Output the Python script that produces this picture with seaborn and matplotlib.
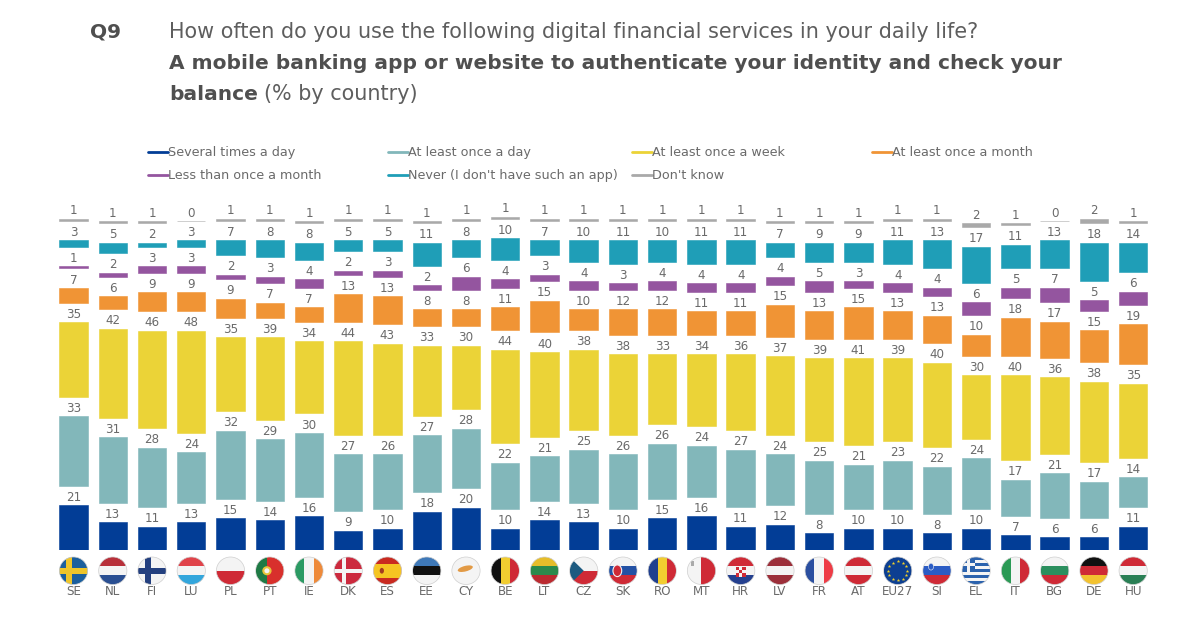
import numpy as np
import pandas as pd
import seaborn as sns
import matplotlib
matplotlib.use("Agg")
import matplotlib.pyplot as plt
from matplotlib.lines import Line2D
from matplotlib.patches import Rectangle, Circle, Polygon, Ellipse

countries = ["SE","NL","FI","LU","PL","PT","IE","DK","ES","EE","CY","BE","LT","CZ","SK","RO","MT","HR","LV","FR","AT","EU27","SI","EL","IT","BG","DE","HU"]
several = [21,13,11,13,15,14,16,9,10,18,20,10,14,13,10,15,16,11,12,8,10,10,8,10,7,6,6,11]
daily   = [33,31,28,24,32,29,30,27,26,27,28,22,21,25,26,26,24,27,24,25,21,23,22,24,17,21,17,14]
weekly  = [35,42,46,48,35,39,34,44,43,33,30,44,40,38,38,33,34,36,37,39,41,39,40,30,40,36,38,35]
monthly = [7,6,9,9,9,7,7,13,13,8,8,11,15,10,12,12,11,11,15,13,15,13,13,10,18,17,15,19]
rarely  = [1,2,3,3,2,3,4,2,3,2,6,4,3,4,3,4,4,4,4,5,3,4,4,6,5,7,5,6]
never   = [3,5,2,3,7,8,8,5,5,11,8,10,7,10,11,10,11,11,7,9,9,11,13,17,11,13,18,14]
dontknow= [1,1,1,0,1,1,1,1,1,1,1,1,1,1,1,1,1,1,1,1,1,1,1,2,1,0,2,1]

series_names = ["Several times a day","At least once a day","At least once a week","At least once a month",
                "Less than once a month","Never (I don't have such an app)","Don't know"]
series_values = [several, daily, weekly, monthly, rarely, never, dontknow]
series_colors = ["#023d96","#82b7ba","#ebd337","#f09435","#94559f","#1f9eb7","#a9a9a9"]
GAP = 9.2

W, H = 1200, 633
sns.set_theme(style="white")
plt.rcParams["font.family"] = ["DejaVu Sans"]
TXT = "#6a6a6a"

fig = plt.figure(figsize=(12, 6.33), dpi=100, facecolor="white")
left, right, bottom_px = 53.9, 1152.8, 550
ax = fig.add_axes([left/W, (H-bottom_px)/H, (right-left)/W, 349.8/H])

df = pd.DataFrame(dict(zip(series_names, series_values)), index=countries)
base = np.zeros(len(countries))
for name, color in zip(series_names, series_colors):
    vals = df[name].to_numpy(dtype=float)
    sns.barplot(x=countries, y=vals, order=countries, color=color, saturation=1, width=0.725,
                bottom=base, ax=ax, linewidth=0.4, edgecolor=color)
    for i, v in enumerate(vals):
        ax.annotate(f"{v:.0f}", (i, base[i]+v), xytext=(0, 3.2), textcoords="offset points",
                    ha="center", va="baseline", fontsize=8.6, color=TXT, annotation_clip=False)
    base = base + vals + GAP

ax.set_xlim(-0.5, len(countries)-0.5)
ax.set_ylim(0, 165)
ax.set_yticks([])
ax.set_ylabel(""); ax.set_xlabel("")
ax.tick_params(axis="x", length=0, pad=25.5, labelsize=8.6, labelcolor=TXT)
sns.despine(ax=ax, left=True, bottom=True)

# ---- flags --------------------------------------------------------------
R, W_, B, Y, G, K = "#cf2a36", "#f4f4f4", "#1f4a96", "#f2c01e", "#1f8a55", "#111111"
hflags = {"NL":[ "#b8303a",W_,"#2a4f92"],"LU":["#e0434a",W_,"#33a6dc"],"PL":[W_,R],"EE":["#3f79b8",K,W_],
          "LT":["#e6bd2a","#2b8a4c","#bb2a30"],"LV":["#9c2f3a",W_,"#9c2f3a"],"AT":[R,W_,R],"BG":[W_,"#2b8f5e",R],
          "DE":[K,R,"#f2c230"],"HU":[R,W_,"#2a7f55"],"SK":[W_,"#2351a4",R],"SI":[W_,"#2b5cc4",R],
          "HR":[R,W_,"#24408f"]}
vflags = {"IE":["#2b9a63",W_,"#ee8a3a"],"BE":[K,"#f2cd30",R],"RO":["#1f3f8f","#f2cd30",R],"FR":["#2b4fa0",W_,"#ee3c46"],
          "IT":["#2b9a55",W_,R],"MT":[W_,R]}

def draw_flag(code, i):
    a = ax.inset_axes([i-0.36, -34.5/2.12, 0.72, 27.5/2.12], transform=ax.transData)
    a.set_xlim(-1, 1); a.set_ylim(-1, 1); a.axis("off")
    clip = Circle((0, 0), 1, transform=a.transData)
    def add(p):
        a.add_patch(p); p.set_clip_path(clip); return p
    def rect(x0, y0, w, h, c):
        add(Rectangle((x0, y0), w, h, fc=c, ec="none"))
    if code in hflags:
        cs = hflags[code]; h = 2/len(cs)
        for k, c in enumerate(cs):
            rect(-1, 1-(k+1)*h, 2, h, c)
    elif code in vflags:
        cs = vflags[code]; w = 2/len(cs)
        for k, c in enumerate(cs):
            rect(-1+k*w, -1, w, 2, c)
    elif code == "SE":
        rect(-1,-1,2,2,"#1b5f9e"); rect(-1,-0.2,2,0.4,"#eec52a"); rect(-0.5,-1,0.4,2,"#eec52a")
    elif code == "FI":
        rect(-1,-1,2,2,W_); rect(-1,-0.2,2,0.4,"#24407f"); rect(-0.5,-1,0.4,2,"#24407f")
    elif code == "DK":
        rect(-1,-1,2,2,"#cc2a3e"); rect(-1,-0.14,2,0.28,W_); rect(-0.45,-1,0.28,2,W_)
    elif code == "PT":
        rect(-1,-1,0.8,2,"#1f7a45"); rect(-0.2,-1,1.2,2,"#d8302c")
        add(Circle((-0.2,0),0.33,fc="#e8c33a",ec="none")); add(Circle((-0.2,0),0.18,fc=W_,ec="none"))
    elif code == "ES":
        rect(-1,-1,2,2,"#c92a20"); rect(-1,-0.5,2,1,"#f5c422"); add(Ellipse((-0.4,0),0.3,0.42,fc="#a33a20",ec="none"))
    elif code == "CY":
        rect(-1,-1,2,2,W_); add(Ellipse((-0.05,0.15),1.1,0.4,angle=15,fc="#e29a45",ec="none"))
    elif code == "CZ":
        rect(-1,0,2,1,W_); rect(-1,-1,2,1,R)
        add(Polygon([(-1,1),(0,0),(-1,-1)],fc="#1d5a80",ec="none"))
    elif code == "EU27":
        rect(-1,-1,2,2,"#0d3f91")
        t = np.arange(12)*np.pi/6
        a.scatter(0.68*np.cos(t),0.68*np.sin(t),marker="*",s=7,c="#f5d327",linewidths=0)
    elif code == "EL":
        for k in range(9):
            rect(-1,1-(k+1)*2/9,2,2/9,"#2b62ad" if k%2==0 else W_)
        rect(-1,1-5*2/9,0.95,5*2/9,"#2b62ad"); rect(-0.65,1-5*2/9,0.22,5*2/9,W_); rect(-1,1-3*2/9,0.95,2/9,W_)
    if code == "SK":
        add(Ellipse((-0.4,0),0.62,0.85,fc=R,ec=W_,lw=0.8))
    if code == "SI":
        add(Ellipse((-0.42,0.3),0.36,0.5,fc="#2b5cc4",ec=W_,lw=0.4))
    if code == "HR":
        for r_ in range(3):
            for c_ in range(3):
                rect(-0.36+c_*0.24, 0.3-(r_)*0.24-0.24+0.0, 0.24, 0.24, R if (r_+c_)%2==0 else W_)
    if code == "MT":
        rect(-0.72,0.35,0.18,0.35,"#aaaaaa")
    a.add_patch(Circle((0,0),1,fc="none",ec="#cfcfcf",lw=0.5,clip_on=False))

for i, c in enumerate(countries):
    draw_flag(c, i)

# ---- legends, one column each -------------------------------------------
cols = [(148,[0,4]),(388,[1,5]),(632,[2,6]),(872,[3])]
for xpx, idx in cols:
    hs = [Line2D([0],[0],color=series_colors[k],lw=2) for k in idx]
    leg = fig.legend(hs,[series_names[k] for k in idx],loc="upper left",bbox_to_anchor=(xpx/W,(H-146)/H),
               frameon=False,borderpad=0,borderaxespad=0,handlelength=1.55,handletextpad=0.0,
               labelspacing=0.82,fontsize=9.15,labelcolor=TXT)

# ---- header -------------------------------------------------------------
HD, HB = "#5e5e5e", "#4f4f4f"
fig.text(90/W,(H-38)/H,"Q9",fontsize=14.5,fontweight="bold",color=HB,va="baseline")
fig.text(169/W,(H-38)/H,"How often do you use the following digital financial services in your daily life?",
         fontsize=14.95,color=HD,va="baseline")
fig.text(169/W,(H-69)/H,"A mobile banking app or website to authenticate your identity and check your",
         fontsize=14.5,fontweight="bold",color=HB,va="baseline")
t = fig.text(169/W,(H-100)/H,"balance",fontsize=14.5,fontweight="bold",color=HB,va="baseline")
fig.canvas.draw()
bb = t.get_window_extent()
fig.text((bb.x1+6)/W,(H-100)/H,"(% by country)",fontsize=14.95,color=HD,va="baseline")

fig.savefig("out.png",dpi=100,facecolor="white")
